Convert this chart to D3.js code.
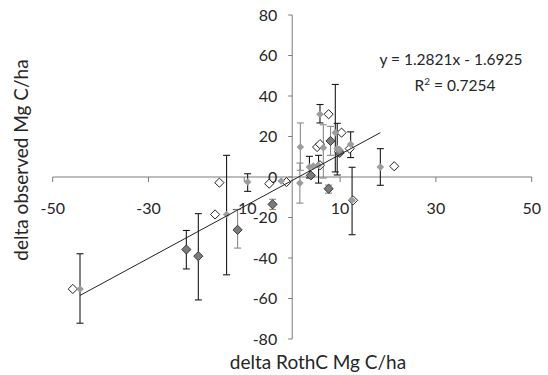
<!DOCTYPE html>
<html>
<head>
<meta charset="utf-8">
<script src="https://cdn.jsdelivr.net/npm/d3@7"></script>
<style>
  body { margin: 0; background: #fff; }
  text { font-family: Lato, "Open Sans", sans-serif; fill: #262626; }
</style>
</head>
<body>
<svg id="chart" width="548" height="375"></svg>
<script>
// axis ticks
const xTicks = [-50, -30, -10, 10, 30, 50];
const yTicks = [-80, -60, -40, -20, 0, 20, 40, 60, 80];

// open diamonds [x, y]
const openPts = [
  [-45.8, -55.3], [-16.1, -18.5], [-15.2, -2.8], [-4.8, -3.3], [-1.2, -2.5],
  [5.2, 14.8], [5.8, 16.2], [5.8, 5.8], [7.6, 31.0], [10.3, 21.9],
  [9.8, 12.6], [12.0, 14.0], [12.7, -11.5], [21.3, 5.3]
];

// light grey diamonds with dark error bars [x, y, low, high]
const greyDarkBars = [
  [-44.3, -55.3, -72.2, -37.9], [-13.7, -18.5, -48.3, 10.7], [-9.3, -2.5, -7.1, 1.6],
  [3.6, 4.9, -0.5, 10.2], [5.5, 5.8, -3.0, 10.7], [5.8, 31.0, 26.7, 35.8],
  [9.0, 21.9, 2.5, 45.7], [9.4, 14.0, 1.0, 26.5], [12.2, 16.2, 9.6, 22.3],
  [12.5, -11.5, -28.5, 4.8], [18.4, 4.9, -4.1, 14.0]
];
// light grey diamonds with grey error bars
const greyGreyBars = [
  [1.7, 14.8, 3.3, 26.7], [1.6, -3.0, -12.9, 6.9], [6.5, 14.5, -0.5, 25.8]
];
const greyPlain = [[-2.3, -2.0], [4.4, 5.4], [9.9, 13.5]];

// dark diamonds
const darkDarkBars = [
  [-22.1, -35.8, -45.4, -26.4], [-19.6, -39.1, -60.7, -18.1]
];
const darkGreyBars = [
  [-11.4, -26.1, -35.1, -16.0], [-4.1, -13.5, -16.0, -11.0],
  [7.6, -5.8, -8.0, -4.0], [8.0, 17.8, 10.7, 25.0]
];
const darkPlain = [[3.9, 0.8], [9.9, 11.9]];

// linear trend shown on chart
const slope = 1.2821;
const intercept = -1.6925;
const trendX = [-44.3, 18.4];
const eqText = "y = 1.2821x - 1.6925";
const r2Value = "0.7254";

const svg = d3.select("#chart");
const x = d3.scaleLinear().domain([-50, 50]).range([52.7, 531.7]);
const y = d3.scaleLinear().domain([-80, 80]).range([339, 15]);
const x0 = x(0), y0 = y(0);

// axes
const axes = svg.append("g").attr("stroke", "#7a7a7a").attr("stroke-width", 1);
axes.append("line").attr("x1", x(-50)).attr("x2", x(50)).attr("y1", y0).attr("y2", y0);
axes.append("line").attr("x1", x0).attr("x2", x0).attr("y1", y(80)).attr("y2", y(-80));
axes.selectAll(".xt").data(xTicks).join("line")
  .attr("x1", (d) => x(d)).attr("x2", (d) => x(d))
  .attr("y1", y0).attr("y2", y0 + 5);
axes.selectAll(".yt").data(yTicks).join("line")
  .attr("x1", x0 - 4).attr("x2", x0)
  .attr("y1", (d) => y(d)).attr("y2", (d) => y(d));

svg.append("g").selectAll("text").data(xTicks).join("text")
  .attr("x", (d) => x(d)).attr("y", 214)
  .attr("text-anchor", "middle").style("font-size", "16px")
  .text((d) => d);
svg.append("g").selectAll("text").data(yTicks).join("text")
  .attr("x", x0 - 15).attr("y", (d) => y(d) + 5.5)
  .attr("text-anchor", "end").style("font-size", "16px")
  .text((d) => d);

// error bars
function errBars(data, color) {
  const g = svg.append("g").attr("stroke", color).attr("stroke-width", 1.1);
  data.forEach(([px, , lo, hi]) => {
    g.append("line").attr("x1", x(px)).attr("x2", x(px)).attr("y1", y(lo)).attr("y2", y(hi));
    [lo, hi].forEach((v) => {
      g.append("line").attr("x1", x(px) - 3.5).attr("x2", x(px) + 3.5)
        .attr("y1", y(v)).attr("y2", y(v));
    });
  });
}
errBars(greyGreyBars, "#8a8a8a");
errBars(darkGreyBars, "#8a8a8a");
errBars(greyDarkBars, "#1a1a1a");
errBars(darkDarkBars, "#1a1a1a");

const diamond = (r) => `M0,${-r}L${r},0L0,${r}L${-r},0Z`;
function markers(data, r, fill, stroke) {
  svg.append("g").selectAll("path").data(data).join("path")
    .attr("transform", (d) => `translate(${x(d[0])},${y(d[1])})`)
    .attr("d", diamond(r))
    .attr("fill", fill)
    .attr("stroke", stroke)
    .attr("stroke-width", stroke === "none" ? 0 : 1);
}
markers(openPts, 4.6, "#fff", "#222");
markers(darkDarkBars.concat(darkGreyBars, darkPlain), 4.6, "#7b7b7b", "#3a3a3a");
markers(greyDarkBars.concat(greyGreyBars, greyPlain), 3.8, "#9c9c9c", "none");

// trend line
svg.append("line")
  .attr("x1", x(trendX[0])).attr("y1", y(slope * trendX[0] + intercept))
  .attr("x2", x(trendX[1])).attr("y2", y(slope * trendX[1] + intercept))
  .attr("stroke", "#222").attr("stroke-width", 1);

// equation
svg.append("text").attr("x", 451).attr("y", 65).attr("text-anchor", "middle")
  .style("font-size", "15.5px").text(eqText);
const r2 = svg.append("text").attr("x", 455).attr("y", 91).attr("text-anchor", "middle")
  .style("font-size", "15.5px");
r2.append("tspan").text("R");
r2.append("tspan").attr("dy", -6).style("font-size", "10px").text("2");
r2.append("tspan").attr("dy", 6).text(" = " + r2Value);

// axis titles
svg.append("text").attr("x", 318).attr("y", 369).attr("text-anchor", "middle")
  .style("font-size", "19px").text("delta RothC Mg C/ha");
svg.append("text").attr("transform", "translate(28,160) rotate(-90)")
  .attr("text-anchor", "middle").style("font-size", "19px")
  .text("delta observed Mg C/ha");
</script>
</body>
</html>
